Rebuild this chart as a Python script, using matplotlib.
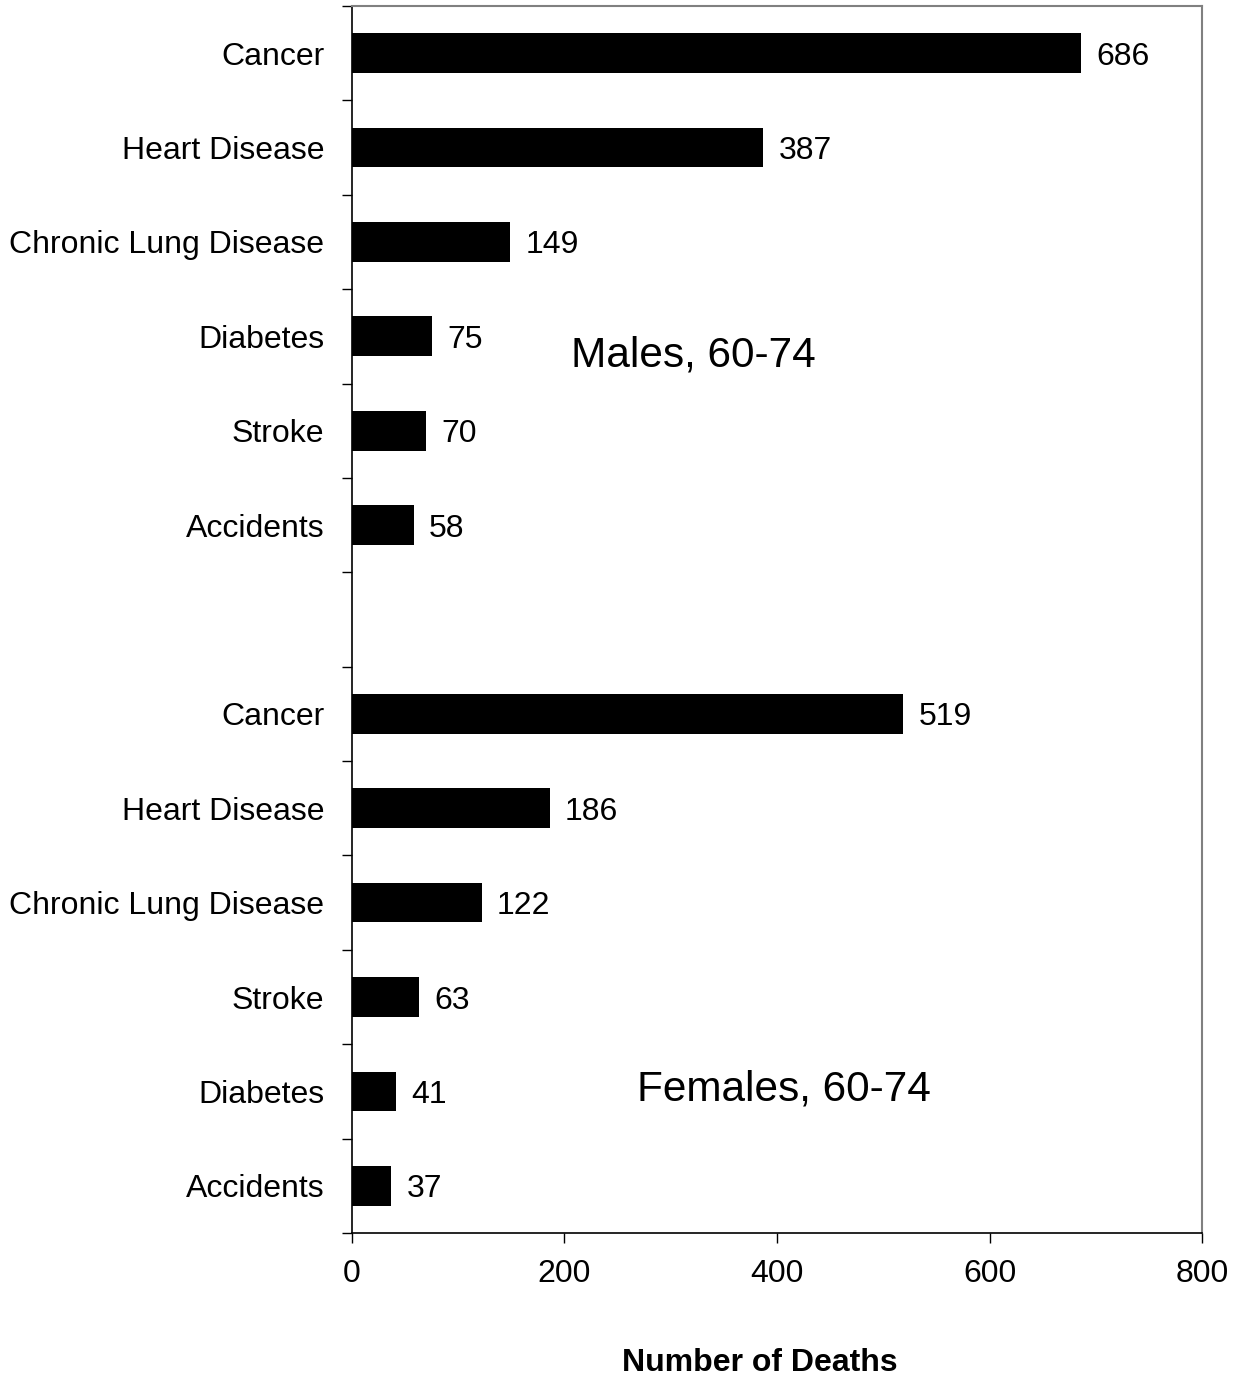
import numpy as np
import matplotlib.pyplot as plt

plt.rcParams['font.family'] = ['Liberation Sans', 'DejaVu Sans']

# Data (top to bottom)
male_causes = ["Cancer", "Heart Disease", "Chronic Lung Disease", "Diabetes", "Stroke", "Accidents"]
male_deaths = [686, 387, 149, 75, 70, 58]
female_causes = ["Cancer", "Heart Disease", "Chronic Lung Disease", "Stroke", "Diabetes", "Accidents"]
female_deaths = [519, 186, 122, 63, 41, 37]

labels = male_causes + [""] + female_causes
values = male_deaths + [np.nan] + female_deaths
pos = np.arange(len(labels))

fig = plt.figure(figsize=(12.41, 13.8), dpi=100)
ax = fig.add_axes([0.2836, 0.1065, 0.685, 0.8892])

for p, v in zip(pos, values):
    if np.isnan(v):
        continue
    ax.barh(p, v, height=0.42, color='black')
    ax.annotate(str(int(v)), (v, p), xytext=(11, 0), textcoords='offset points',
                va='center_baseline', ha='left', fontsize=23)

ax.set_ylim(len(labels) - 0.5, -0.5)
ax.set_xlim(0, 800)
ax.set_xticks([0, 200, 400, 600, 800])
ax.tick_params(axis='x', labelsize=23, length=7, width=1, direction='out', pad=12)
ax.set_yticks(pos)
ax.set_yticklabels(labels)
ax.tick_params(axis='y', which='major', length=0, labelsize=23, pad=20)
ax.set_yticks(np.arange(-0.5, len(labels)), minor=True)
ax.tick_params(axis='y', which='minor', length=7, width=1, direction='out')

for s in ['top', 'right']:
    ax.spines[s].set_color('#808080')
    ax.spines[s].set_linewidth(1.5)
for s in ['left', 'bottom']:
    ax.spines[s].set_color('black')
    ax.spines[s].set_linewidth(1.2)

ax.text(321, 3.2, "Males, 60-74", fontsize=30.5, ha='center', va='center')
ax.text(407, 10.98, "Females, 60-74", fontsize=30.5, ha='center', va='center')

fig.text(0.612, 0.012, "Number of Deaths", fontsize=23, fontweight='bold', ha='center', va='center')

fig.savefig("out.png", dpi=100)
